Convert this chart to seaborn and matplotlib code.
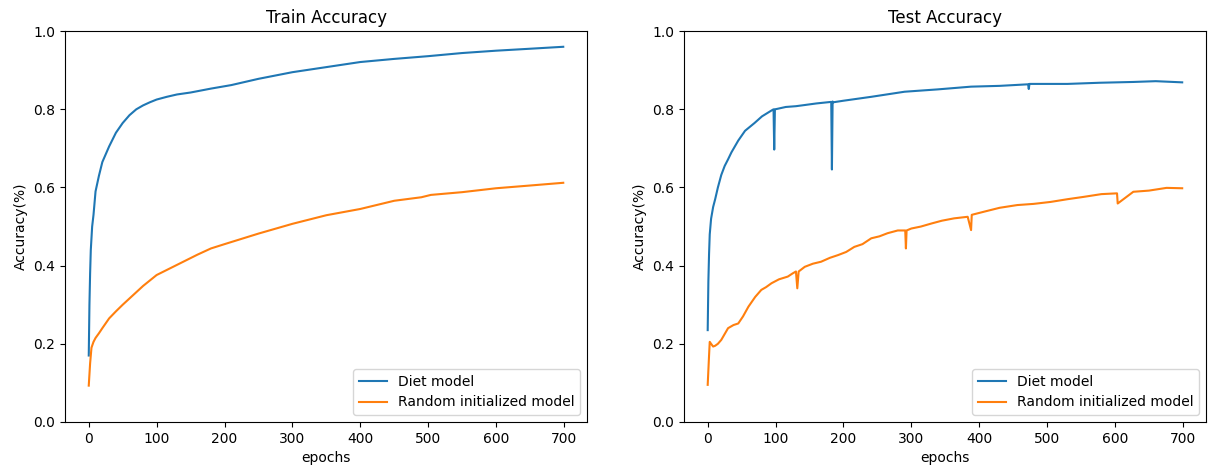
import numpy as np
import pandas as pd
import matplotlib
matplotlib.use("Agg")
import matplotlib.pyplot as plt
import seaborn as sns

# values
train_diet_epochs = [0, 1, 2, 3, 5, 7, 10, 15, 20, 25, 30, 40, 50, 60, 70, 80, 90, 100,
                     115, 130, 150, 180, 210, 250, 300, 350, 400, 450, 500, 550, 600, 650, 699]
train_diet_acc = [0.17, 0.30, 0.38, 0.44, 0.50, 0.53, 0.59, 0.63, 0.665, 0.685, 0.705, 0.74,
                  0.765, 0.785, 0.80, 0.81, 0.818, 0.825, 0.832, 0.838, 0.843, 0.853, 0.862,
                  0.878, 0.895, 0.908, 0.921, 0.929, 0.936, 0.944, 0.950, 0.955, 0.960]

train_rand_epochs = [0, 2, 4, 7, 10, 15, 20, 30, 40, 50, 60, 80, 100, 130, 160, 180, 200, 250,
                     300, 350, 400, 450, 490, 504, 550, 600, 650, 699]
train_rand_acc = [0.093, 0.15, 0.19, 0.205, 0.215, 0.227, 0.24, 0.265, 0.283, 0.30, 0.316,
                  0.348, 0.376, 0.402, 0.428, 0.444, 0.455, 0.482, 0.507, 0.529, 0.545, 0.566,
                  0.575, 0.581, 0.588, 0.598, 0.605, 0.612]

test_diet_epochs = [0, 1, 2, 3, 5, 8, 11, 15, 20, 25, 30, 35, 45, 55, 69, 80, 94, 97, 98, 99,
                    102, 115, 130, 143, 160, 182, 183, 184, 185, 200, 241, 290, 339, 388, 430,
                    472, 473, 474, 530, 578, 627, 660, 699]
test_diet_acc = [0.235, 0.36, 0.43, 0.48, 0.52, 0.55, 0.57, 0.60, 0.632, 0.655, 0.672, 0.69,
                 0.72, 0.745, 0.765, 0.782, 0.797, 0.80, 0.697, 0.80, 0.801, 0.806, 0.808,
                 0.811, 0.815, 0.819, 0.646, 0.82, 0.818, 0.822, 0.832, 0.845, 0.851, 0.858,
                 0.860, 0.864, 0.852, 0.865, 0.865, 0.868, 0.870, 0.872, 0.869]

test_rand_epochs = [0, 2, 3, 5, 8, 11, 15, 20, 25, 30, 38, 45, 52, 60, 70, 79, 86, 94, 105,
                    118, 125, 130, 132, 134, 143, 155, 167, 180, 192, 204, 216, 228, 241, 253,
                    265, 280, 291, 292, 293, 300, 314, 330, 345, 363, 383, 388, 389, 407, 430,
                    456, 480, 505, 530, 554, 580, 603, 604, 627, 650, 676, 699]
test_rand_acc = [0.095, 0.17, 0.205, 0.20, 0.193, 0.195, 0.20, 0.21, 0.225, 0.24, 0.248,
                 0.252, 0.27, 0.295, 0.32, 0.338, 0.345, 0.355, 0.365, 0.372, 0.38, 0.385,
                 0.342, 0.385, 0.397, 0.405, 0.41, 0.42, 0.427, 0.435, 0.448, 0.455, 0.47,
                 0.475, 0.483, 0.49, 0.49, 0.444, 0.49, 0.495, 0.50, 0.508, 0.515, 0.521,
                 0.525, 0.491, 0.53, 0.538, 0.548, 0.555, 0.558, 0.563, 0.57, 0.576, 0.583,
                 0.585, 0.559, 0.589, 0.592, 0.599, 0.598]

labels = ["Diet model", "Random initialized model"]
colors = ["#1f77b4", "#ff7f0e"]


def make_df(ep_a, acc_a, ep_b, acc_b):
    a = pd.DataFrame({"epoch": ep_a, "acc": acc_a, "model": labels[0]})
    b = pd.DataFrame({"epoch": ep_b, "acc": acc_b, "model": labels[1]})
    return pd.concat([a, b], ignore_index=True)


train_df = make_df(train_diet_epochs, train_diet_acc, train_rand_epochs, train_rand_acc)
test_df = make_df(test_diet_epochs, test_diet_acc, test_rand_epochs, test_rand_acc)

fig = plt.figure(figsize=(12.11, 4.72), dpi=100)
ax1 = fig.add_axes([0.0537, 0.106, 0.431, 0.828])
ax2 = fig.add_axes([0.5648, 0.106, 0.431, 0.828])

for ax, df, title in [(ax1, train_df, "Train Accuracy"), (ax2, test_df, "Test Accuracy")]:
    sns.lineplot(data=df, x="epoch", y="acc", hue="model", palette=colors,
                 estimator=None, sort=False, linewidth=1.5, ax=ax)
    ax.set_title(title, fontsize=12)
    ax.set_xlabel("epochs")
    ax.set_ylabel("Accuracy(%)")
    ax.set_ylim(0, 1.0)
    ax.set_xticks(range(0, 701, 100))
    ax.set_yticks(np.arange(0, 1.01, 0.2))
    ax.legend(title=None, loc="lower right", fontsize=10)

fig.savefig("out.png", dpi=100)
